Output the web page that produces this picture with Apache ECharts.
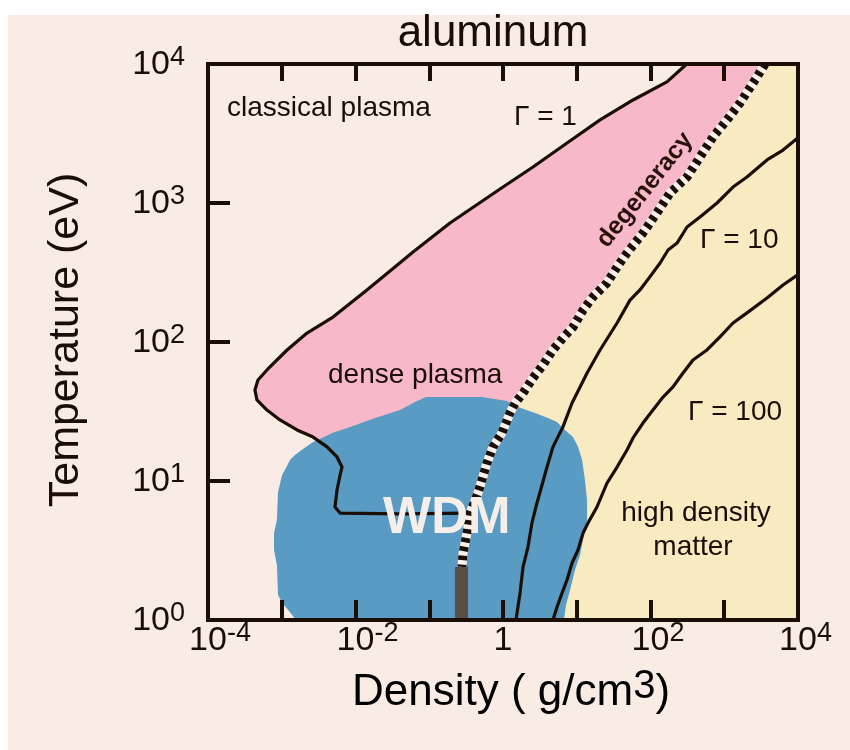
<!DOCTYPE html>
<html>
<head>
<meta charset="utf-8">
<script src="https://cdn.jsdelivr.net/npm/echarts@6/dist/echarts.min.js"></script>
<style>
  html, body { margin: 0; padding: 0; background: #ffffff; }
  #paper { position: absolute; left: 8px; top: 15px; width: 842px; height: 735px; background: #f8ece4; }
  #chart { position: absolute; left: 0; top: 0; width: 850px; height: 750px; }
</style>
</head>
<body>
<div id="paper"></div>
<div id="chart"></div>
<script>
// Aluminum phase diagram: density (g/cm3) vs temperature (eV), log-log.

// Tick label exponents
const xLabelExponents = [-4, -2, 0, 2, 4];
const yLabelExponents = [0, 1, 2, 3, 4];

// Gamma = 1 line: classical / dense plasma boundary [density, temperature]
const gamma1Line = [
  [310, 10000], [167, 7430], [58, 5510], [20.7, 3960], [7.38, 2700], [2.55, 1815],
  [1.0, 1303], [0.191, 718], [0.0603, 444], [0.0143, 237], [0.00495, 151],
  [0.0022, 116], [0.00118, 87.6], [0.00063, 62.9], [0.000476, 53.3], [0.000433, 45.2],
  [0.000461, 38.3], [0.00063, 32.4], [0.000946, 27.5], [0.00161, 23.3], [0.00266, 20.7],
  [0.00411, 17.6], [0.00561, 14.9], [0.00656, 12.6], [0.00617, 11.0], [0.00561, 8.61],
  [0.00527, 6.5], [0.00617, 5.88], [0.0401, 5.8], [0.357, 5.88]
];

// Degeneracy boundary, top to bottom
const degeneracyLine = [
  [3570, 10000], [2780, 8060], [1635, 5240], [1090, 3960], [703, 2985], [469, 2143],
  [313, 1538], [184, 1180], [122, 847], [79, 608], [48, 437], [35.2, 346], [25.7, 266],
  [16.6, 211], [12.2, 170], [8.9, 128], [6.5, 107], [4.76, 87.6], [3.49, 68.3],
  [2.55, 55.1], [1.87, 43.0], [1.46, 36.4], [1.24, 30.8], [0.97, 22.2], [0.73, 17.6],
  [0.607, 13.5], [0.519, 10.2], [0.458, 8.2], [0.357, 5.88], [0.325, 4.23],
  [0.287, 3.03], [0.278, 2.41]
];
const degeneracyJoint = 28; // index where the Gamma = 1 line meets it

// Gamma = 10 line
const gamma10Line = [
  [10000, 2950], [6265, 2405], [3800, 2040], [2033, 1538], [1315, 1303], [798, 1000],
  [469, 793], [313, 672], [229, 515], [173, 459], [135, 370], [98, 294], [72, 237],
  [52.7, 200], [35.2, 137], [20.7, 87.6], [13.8, 59.8], [11.1, 47.5], [8.63, 36.4],
  [6.5, 24.5], [4.76, 17.6], [3.95, 12.6], [2.89, 6.95], [2.47, 4.99], [2.18, 3.35],
  [1.87, 2.41], [1.70, 1.56], [1.50, 1]
];

// Gamma = 100 line
const gamma100Line = [
  [10000, 305], [6265, 257], [3800, 207], [2033, 162], [1315, 137], [875, 109],
  [583, 87.6], [377, 74.2], [276, 59.8], [202, 47.5], [148, 40.2], [108, 32.4],
  [79, 26.1], [58, 20.4], [48, 16.7], [35.2, 12.6], [25.7, 9.67], [18.8, 6.5],
  [14.2, 4.99], [12.2, 4.23], [10.4, 3.19], [8.63, 2.57], [7.38, 1.94], [6.31, 1.56],
  [5.4, 1.24], [4.76, 1]
];

// Warm dense matter region outline
const wdmRegion = [
  [0.0904, 40.2], [0.519, 40.2], [1.13, 37.6], [1.60, 34.1], [2.72, 30.8], [4.07, 28.4],
  [5.4, 26.6], [6.93, 23.3], [8.9, 20.7], [10.4, 17.6], [11.8, 14.2], [12.9, 10.2],
  [13.8, 7.3], [13.8, 5.24], [12.2, 3.89], [11.1, 2.94], [9.47, 2.29], [8.1, 1.64],
  [7.15, 1.28], [6.7, 1], [0.00156, 1], [0.00122, 1.18], [0.00101, 1.33],
  [0.00089, 1.51], [0.00086, 2.49], [0.000785, 3.19], [0.000785, 4.23], [0.00086, 5.24],
  [0.00089, 8.34], [0.00101, 11.0], [0.00114, 12.4], [0.0013, 14.2], [0.00151, 15.4],
  [0.00194, 17.0], [0.00266, 19.1], [0.00495, 22.2], [0.00925, 24.9], [0.0184, 28.4],
  [0.0401, 32.4], [0.0682, 37.6]
];

// Solid-density bar: [[density from, T from], [density to, T to]]
const solidBar = [[0.223, 1], [0.335, 2.41]];

const FONT = '"Liberation Sans", Arial, Helvetica, sans-serif';
const INK = '#1a0e07';
const PINK = '#f7b8c9';
const BLUE = '#5a9bc4';
const YELLOW = '#f8eac1';
const GRAY = '#5b4e47';
const DASH_LIGHT = '#f9f0ea';

// Region polygons assembled from the boundary lines
const denseRegion = gamma1Line.concat(degeneracyLine.slice(0, degeneracyJoint + 1).reverse());
const lastDeg = degeneracyLine[degeneracyLine.length - 1];
const highDensityRegion = degeneracyLine.concat([[lastDeg[0], 1], [1e4, 1], [1e4, 1e4]]);
const solidBarPoly = [
  [solidBar[0][0], solidBar[0][1]], [solidBar[1][0], solidBar[0][1]],
  [solidBar[1][0], solidBar[1][1]], [solidBar[0][0], solidBar[1][1]]
];

function areaSeries(name, pts, fill, z) {
  return {
    name: name, type: 'custom', coordinateSystem: 'cartesian2d', z: z,
    silent: true, clip: true, data: pts, encode: { x: 0, y: 1 },
    renderItem: function (params, api) {
      if (params.dataIndex !== 0) return null;
      return {
        type: 'polygon',
        shape: { points: pts.map(function (p) { return api.coord(p); }) },
        style: { fill: fill }
      };
    }
  };
}

function curveSeries(name, pts, width, color, dash, z) {
  return {
    name: name, type: 'line', data: pts, z: z, silent: true,
    symbol: 'none', showSymbol: false, smooth: false, clip: true,
    lineStyle: { color: color, width: width, type: dash, cap: 'butt', join: 'round' }
  };
}

const richLabel = {
  b: { fontSize: 34, fontFamily: FONT, color: INK, lineHeight: 36, verticalAlign: 'bottom' },
  s: { fontSize: 27, fontFamily: FONT, color: INK, lineHeight: 27, padding: [0, 0, 11, 0], verticalAlign: 'bottom' },
  p1: { width: 15, lineHeight: 36, verticalAlign: 'bottom' },
  p2: { width: 24, lineHeight: 36, verticalAlign: 'bottom' }
};

function expOf(v) { return Math.round(Math.log10(v)); }

const axisLineStyle = { show: true, lineStyle: { color: INK, width: 4, cap: 'square' } };

const option = {
  animation: false,
  backgroundColor: 'transparent',
  grid: { left: 208, right: 52, top: 64, bottom: 130, containLabel: false, outerBoundsMode: 'none' },
  xAxis: [
    {
      type: 'log', logBase: 10, min: 1e-4, max: 1e4, splitNumber: 8, position: 'bottom', z: 10,
      axisLine: axisLineStyle,
      axisTick: { show: true, inside: true, length: 20, lineStyle: { color: INK, width: 4 } },
      splitLine: { show: false }, minorTick: { show: false },
      axisLabel: {
        show: true, margin: 2, rich: richLabel, showMinLabel: true, showMaxLabel: true,
        formatter: function (v) {
          const e = expOf(v);
          if (xLabelExponents.indexOf(e) < 0) return '';
          if (e === 0) return '{b|1}';
          const sup = String(e);
          return '{' + (sup.length > 1 ? 'p2' : 'p1') + '|}{b|10}{s|' + sup + '}';
        }
      }
    },
    {
      type: 'log', logBase: 10, min: 1e-4, max: 1e4, splitNumber: 8, position: 'top', z: 10,
      axisLine: axisLineStyle,
      axisTick: { show: true, inside: true, length: 17, lineStyle: { color: INK, width: 4 } },
      splitLine: { show: false }, minorTick: { show: false },
      axisLabel: { show: false }
    }
  ],
  yAxis: [
    {
      type: 'log', logBase: 10, min: 1, max: 1e4, splitNumber: 4, position: 'left', z: 10,
      axisLine: axisLineStyle,
      axisTick: { show: true, inside: true, length: 22, lineStyle: { color: INK, width: 4 } },
      splitLine: { show: false }, minorTick: { show: false },
      axisLabel: {
        show: true, margin: 23, rich: richLabel, showMinLabel: true, showMaxLabel: true,
        formatter: function (v) {
          const e = expOf(v);
          if (yLabelExponents.indexOf(e) < 0) return '';
          return '{b|10}{s|' + e + '}';
        }
      }
    },
    {
      type: 'log', logBase: 10, min: 1, max: 1e4, splitNumber: 4, position: 'right', z: 10,
      axisLine: axisLineStyle,
      axisTick: { show: false }, axisLabel: { show: false },
      splitLine: { show: false }, minorTick: { show: false }
    }
  ],
  series: [
    areaSeries('high density matter', highDensityRegion, YELLOW, 1),
    areaSeries('dense plasma', denseRegion, PINK, 2),
    areaSeries('WDM', wdmRegion, BLUE, 3),
    areaSeries('solid density', solidBarPoly, GRAY, 4),
    curveSeries('Gamma = 1', gamma1Line, 3.2, INK, 'solid', 5),
    curveSeries('Gamma = 10', gamma10Line, 3.2, INK, 'solid', 5),
    curveSeries('Gamma = 100', gamma100Line, 3.2, INK, 'solid', 5),
    curveSeries('degeneracy base', degeneracyLine, 9, DASH_LIGHT, 'solid', 6),
    curveSeries('degeneracy', degeneracyLine, 9, INK, [4.5, 4.5], 7)
  ],
  graphic: [
    { type: 'text', x: 493, y: 34, z: 20,
      style: { text: 'aluminum', font: '44px ' + FONT, fill: INK, align: 'center', verticalAlign: 'middle', textAlign: 'center', textVerticalAlign: 'middle' } },
    { type: 'text', x: 66, y: 340, rotation: Math.PI / 2, z: 20,
      style: { text: 'Temperature (eV)', font: '43px ' + FONT, fill: INK, align: 'center', verticalAlign: 'middle', textAlign: 'center', textVerticalAlign: 'middle' } },
    { type: 'text', x: 352, y: 671, z: 20,
      style: {
        text: '{a|Density ( g/cm}{s|3}{a|)}', align: 'left', verticalAlign: 'top', textAlign: 'left', textVerticalAlign: 'top',
        rich: {
          a: { fontSize: 44, fontFamily: FONT, color: INK, lineHeight: 44, verticalAlign: 'bottom' },
          s: { fontSize: 40, fontFamily: FONT, color: INK, lineHeight: 40, padding: [0, 0, 8, 0], verticalAlign: 'bottom' }
        }
      } },
    { type: 'text', x: 227, y: 108, z: 20,
      style: { text: 'classical plasma', font: '28px ' + FONT, fill: INK, align: 'left', verticalAlign: 'middle', textAlign: 'left', textVerticalAlign: 'middle' } },
    { type: 'text', x: 514, y: 117, z: 20,
      style: { text: 'Γ = 1', font: '28px ' + FONT, fill: INK, align: 'left', verticalAlign: 'middle', textAlign: 'left', textVerticalAlign: 'middle' } },
    { type: 'text', x: 328, y: 375, z: 20,
      style: { text: 'dense plasma', font: '28px ' + FONT, fill: INK, align: 'left', verticalAlign: 'middle', textAlign: 'left', textVerticalAlign: 'middle' } },
    { type: 'text', x: 700, y: 240, z: 20,
      style: { text: 'Γ = 10', font: '28px ' + FONT, fill: INK, align: 'left', verticalAlign: 'middle', textAlign: 'left', textVerticalAlign: 'middle' } },
    { type: 'text', x: 688, y: 412, z: 20,
      style: { text: 'Γ = 100', font: '28px ' + FONT, fill: INK, align: 'left', verticalAlign: 'middle', textAlign: 'left', textVerticalAlign: 'middle' } },
    { type: 'text', x: 696, y: 513, z: 20,
      style: { text: 'high density', font: '28px ' + FONT, fill: INK, align: 'center', verticalAlign: 'middle', textAlign: 'center', textVerticalAlign: 'middle' } },
    { type: 'text', x: 693, y: 547, z: 20,
      style: { text: 'matter', font: '28px ' + FONT, fill: INK, align: 'center', verticalAlign: 'middle', textAlign: 'center', textVerticalAlign: 'middle' } },
    { type: 'text', x: 383, y: 519, z: 20,
      style: { text: 'WDM', font: 'bold 51px ' + FONT, fill: '#f6efe9', align: 'left', verticalAlign: 'middle', textAlign: 'left', textVerticalAlign: 'middle' } },
    { type: 'text', x: 645, y: 190, rotation: 51.7 * Math.PI / 180, z: 20,
      style: { text: 'degeneracy', font: 'bold 25px ' + FONT, fill: '#2a120c', align: 'center', verticalAlign: 'middle', textAlign: 'center', textVerticalAlign: 'middle' } }
  ]
};

const chart = echarts.init(document.getElementById('chart'), null, { renderer: 'canvas' });
chart.setOption(option);
</script>
</body>
</html>
